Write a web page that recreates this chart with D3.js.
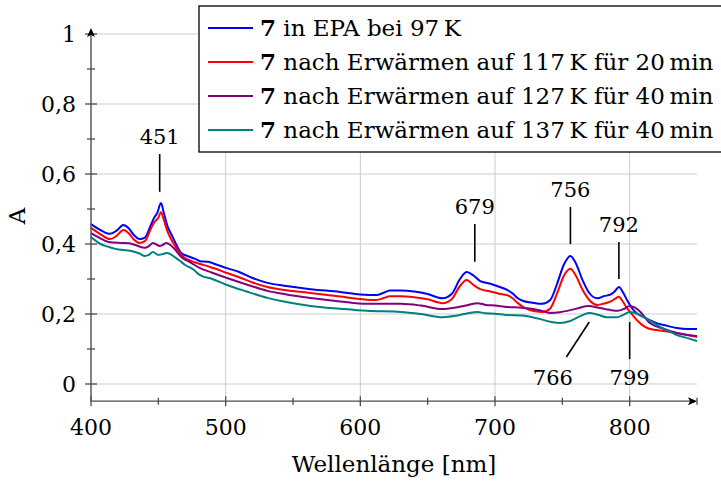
<!DOCTYPE html>
<html>
<head>
<meta charset="utf-8">
<script src="https://cdn.jsdelivr.net/npm/d3@7"></script>
<style>
  body { margin: 0; background: #fff; }
  text { font-family: "DejaVu Serif", serif; fill: #000; }
</style>
</head>
<body>
<script>
// wavelengths (nm) and absorbance per spectrum
const blueX = [400,407,414,419,424,428,432,436,440,444,447,449,452,454,457,460,463,467,472,477,481,487,492,501,510,520,531,545,563,585,600,612,617,622,630,640,650,661,668,674,679,684,689,696,703,709,713,717,721,727,735,741,746,751,756,760,765,770,776,781,786,789,792,795,798,802,806,812,820,828,835,843,850];
const blueY = [.457,.440,.429,.438,.454,.445,.425,.414,.418,.450,.476,.487,.517,.490,.449,.425,.401,.374,.365,.358,.351,.349,.343,.331,.320,.303,.289,.280,.271,.263,.256,.254,.260,.267,.267,.264,.257,.245,.258,.300,.320,.310,.294,.287,.278,.269,.259,.245,.237,.233,.229,.240,.285,.340,.366,.345,.297,.260,.245,.251,.256,.265,.277,.262,.240,.215,.200,.188,.174,.166,.160,.157,.157];

const redX = [400,407,414,419,424,428,432,436,440,444,447,450,452,454,457,460,463,467,472,477,481,487,492,501,510,520,531,545,563,585,600,612,617,622,630,640,650,661,668,674,679,684,689,696,703,709,713,717,721,727,735,741,746,751,756,760,765,770,776,781,786,789,792,795,798,802,806,812,820,828,835,843,850];
const redY = [.446,.428,.414,.423,.440,.431,.412,.403,.408,.440,.462,.475,.491,.470,.434,.410,.391,.369,.355,.348,.343,.336,.330,.317,.305,.290,.277,.268,.260,.250,.243,.240,.245,.251,.251,.248,.242,.231,.243,.280,.297,.283,.271,.265,.258,.254,.245,.231,.220,.210,.206,.216,.258,.308,.329,.310,.269,.240,.226,.230,.236,.243,.249,.235,.217,.198,.180,.162,.154,.150,.146,.140,.134];

const violetX = [400,406,413,422,428,433,440,443,446,448,451,453,456,459,462,467,474,481,490,501,515,531,545,563,585,605,630,645,661,672,680,687,693,700,709,720,733,741,748,756,763,769,778,785,791,796,800,804,808,815,825,835,843,850];
const violetY = [.431,.418,.406,.403,.402,.397,.389,.394,.403,.400,.394,.397,.403,.397,.386,.363,.347,.331,.318,.303,.285,.266,.256,.246,.236,.229,.229,.224,.214,.219,.226,.231,.226,.224,.220,.218,.211,.203,.205,.211,.218,.223,.217,.212,.209,.215,.223,.218,.206,.174,.158,.146,.140,.137];

const tealX = [400,407,413,418,430,436,440,443,446,450,453,456,459,462,466,470,476,481,490,501,515,531,545,563,585,605,630,645,661,672,680,687,693,700,709,720,733,741,748,756,763,770,777,783,791,796,800,804,808,814,820,828,835,843,850];
const tealY = [.420,.400,.392,.386,.380,.373,.366,.369,.377,.369,.371,.374,.371,.363,.352,.340,.327,.311,.300,.283,.265,.246,.234,.223,.215,.209,.206,.200,.191,.196,.202,.206,.202,.201,.197,.196,.186,.178,.174,.180,.193,.203,.197,.191,.191,.199,.206,.203,.196,.183,.169,.153,.140,.131,.123];

const seriesNames = ["in EPA bei 97\u2009K",
  "nach Erwärmen auf 117\u2009K für 20\u2009min",
  "nach Erwärmen auf 127\u2009K für 40\u2009min",
  "nach Erwärmen auf 137\u2009K für 40\u2009min"];
const seriesColors = ["#0000ff", "#ff0000", "#800080", "#008080"];

const xTicks = [400, 500, 600, 700, 800];
const xMinor = [450, 550, 650, 750, 850];
const yTicks = [0, 0.2, 0.4, 0.6, 0.8, 1];
const yMinor = [0.1, 0.3, 0.5, 0.7, 0.9];

// peak pins: label, line start (x,y), line end (x,y), label position (x,y)
const pinLabels = ["451", "679", "756", "792", "766", "799"];
const pinFrom = [[451, .549], [685, .349], [756, .400], [792, .300], [770, .177], [800, .177]];
const pinTo   = [[451, .657], [685, .457], [756, .506], [792, .406], [753, .077], [800, .071]];
const pinText = [[451, .686], [685, .486], [756, .534], [792, .434], [743, -.003], [800, -.003]];

const w = 721, h = 481;

const svg = d3.select("body").append("svg")
    .attr("width", w)
    .attr("height", h);

const x = d3.scaleLinear().domain([400, 850]).range([91, 697]);
const y = d3.scaleLinear().domain([0, 1]).range([384, 34]);
const yBottom = -0.049;

const comma = d3.formatLocale({ decimal: ",", thousands: ".", grouping: [3], currency: ["", ""] });
const yFmt = d => d === 0 ? "0" : (d === 1 ? "1" : comma.format(".1f")(d));

// grid
svg.append("g").selectAll("line")
    .data(yTicks).enter().append("line")
    .attr("x1", x(400)).attr("x2", x(850))
    .attr("y1", d => y(d)).attr("y2", d => y(d))
    .style("stroke", "#cccccc").style("stroke-width", 1);
svg.append("g").selectAll("line")
    .data(xTicks).enter().append("line")
    .attr("x1", d => x(d)).attr("x2", d => x(d))
    .attr("y1", y(yBottom)).attr("y2", y(1))
    .style("stroke", "#cccccc").style("stroke-width", 1);

// spectra
const allSeries = [[blueX, blueY], [redX, redY], [violetX, violetY], [tealX, tealY]];
const line = d3.line()
    .x(d => x(d[0]))
    .y(d => y(d[1]))
    .curve(d3.curveMonotoneX);

svg.append("g").selectAll("path")
    .data(allSeries).enter().append("path")
    .attr("d", s => line(d3.zip(s[0], s[1])))
    .style("fill", "none")
    .style("stroke", (s, i) => seriesColors[i])
    .style("stroke-width", 2)
    .style("stroke-linejoin", "round");

// axes
const axisColor = "#4d4d4d";
const axes = svg.append("g").style("stroke", axisColor).style("stroke-width", 1.3);
axes.append("line")
    .attr("x1", x(400)).attr("x2", x(850) - 2)
    .attr("y1", y(yBottom)).attr("y2", y(yBottom));
axes.append("line")
    .attr("x1", x(400)).attr("x2", x(400))
    .attr("y1", y(yBottom)).attr("y2", y(1.017) + 2);
// arrow heads
svg.append("path")
    .attr("d", `M${x(850)},${y(yBottom)} l-9,-4 l2,4 l-2,4 z`)
    .style("fill", "#000");
svg.append("path")
    .attr("d", `M${x(400)},${y(1.017)} l-4,9 l4,-2 l4,2 z`)
    .style("fill", "#000");

// ticks
axes.selectAll(".xmaj").data(xTicks).enter().append("line")
    .attr("x1", d => x(d)).attr("x2", d => x(d))
    .attr("y1", y(yBottom) - 5).attr("y2", y(yBottom) + 5);
axes.selectAll(".xmin").data(xMinor).enter().append("line")
    .attr("x1", d => x(d)).attr("x2", d => x(d))
    .attr("y1", y(yBottom) - 3.5).attr("y2", y(yBottom) + 3.5);
axes.selectAll(".ymaj").data(yTicks).enter().append("line")
    .attr("x1", x(400) - 6).attr("x2", x(400) + 6)
    .attr("y1", d => y(d)).attr("y2", d => y(d));
axes.selectAll(".ymin").data(yMinor).enter().append("line")
    .attr("x1", x(400) - 4).attr("x2", x(400) + 4)
    .attr("y1", d => y(d)).attr("y2", d => y(d));

// tick labels
svg.append("g").selectAll("text")
    .data(xTicks).enter().append("text")
    .attr("x", d => x(d))
    .attr("y", y(yBottom) + 34)
    .attr("text-anchor", "middle")
    .style("font-size", "22px")
    .text(d => d);
svg.append("g").selectAll("text")
    .data(yTicks).enter().append("text")
    .attr("x", x(400) - 15)
    .attr("y", d => y(d) + 8)
    .attr("text-anchor", "end")
    .style("font-size", "22px")
    .text(yFmt);

// axis titles
svg.append("text")
    .attr("x", 394).attr("y", 472)
    .attr("text-anchor", "middle")
    .style("font-size", "23px")
    .text("Wellenlänge [nm]");
svg.append("text")
    .attr("transform", "translate(25,216) rotate(-90)")
    .attr("text-anchor", "middle")
    .style("font-size", "23px")
    .text("A");

// pins
svg.append("g").selectAll("line")
    .data(pinLabels).enter().append("line")
    .attr("x1", (d, i) => x(pinFrom[i][0])).attr("y1", (d, i) => y(pinFrom[i][1]))
    .attr("x2", (d, i) => x(pinTo[i][0])).attr("y2", (d, i) => y(pinTo[i][1]))
    .style("stroke", "#000").style("stroke-width", 1.6);
svg.append("g").selectAll("text")
    .data(pinLabels).enter().append("text")
    .attr("x", (d, i) => x(pinText[i][0]))
    .attr("y", (d, i) => y(pinText[i][1]))
    .attr("text-anchor", "middle")
    .style("font-size", "21px")
    .text(d => d);

// legend
const legend = svg.append("g");
legend.append("rect")
    .attr("x", 199).attr("y", 6)
    .attr("width", 540).attr("height", 146)
    .style("fill", "#fff")
    .style("stroke", "#000").style("stroke-width", 1.3);
const rows = legend.selectAll(".row")
    .data(seriesNames).enter().append("g")
    .attr("class", "row")
    .attr("transform", (d, i) => `translate(0,${28 + i * 34})`);
rows.append("line")
    .attr("x1", 208).attr("x2", 253)
    .attr("y1", 0).attr("y2", 0)
    .style("stroke", (d, i) => seriesColors[i])
    .style("stroke-width", 2);
const lt = rows.append("text")
    .attr("x", 260).attr("y", 8)
    .style("font-size", "23px");
lt.append("tspan").style("font-weight", "bold").text("7");
lt.append("tspan").text(d => " " + d);
</script>
</body>
</html>
